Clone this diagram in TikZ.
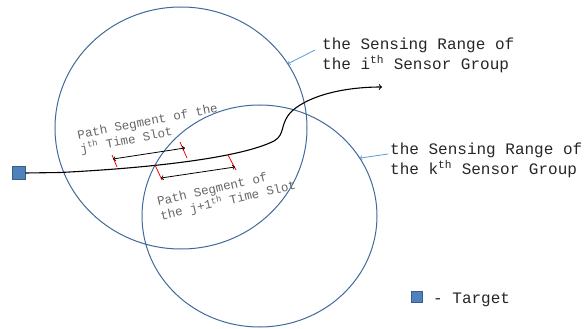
\documentclass[tikz,border=0pt]{standalone}
\usepackage{fontspec}
\setmonofont{Liberation Mono}
\usetikzlibrary{shapes.geometric}

\definecolor{rangeblue}{RGB}{65,106,156}
\definecolor{pointerblue}{RGB}{91,155,213}
\definecolor{targetfill}{RGB}{79,129,189}
\definecolor{targetdraw}{RGB}{56,93,138}

\tikzset{
  sensingrange/.style={ellipse, draw=rangeblue, line width=1pt, inner sep=0pt, outer sep=0pt},
  pointer/.style={draw=pointerblue, line width=0.8pt, ->},
  target/.style={rectangle, fill=targetfill, draw=targetdraw, line width=1pt, inner sep=0pt},
  rangelabel/.style={font=\ttfamily\fontsize{16}{19.5}\selectfont, text=black!85, align=left, inner sep=0pt, anchor=north west},
  seglabel/.style={font=\ttfamily\fontsize{12.5}{14.5}\selectfont, text=black!60, align=left, inner sep=0pt, anchor=north west},
  segtick/.style={draw=red, line width=0.8pt},
}

\begin{document}
\begin{tikzpicture}[x=1pt, y=-1pt]
  \useasboundingbox (0,0) rectangle (587,329);

  % sensing ranges of the two groups
  \node[sensingrange, minimum width=252pt, minimum height=242pt] (rangei) at (181,128) {};
  \node[sensingrange, minimum width=235pt, minimum height=222pt] (rangek) at (259.5,216) {};

  % target and its path
  \node[target, minimum size=13pt] (target) at (18.5,173) {};
  \coordinate (pathend) at (382,87);
  \draw[line width=1.1pt, ->] (target.east) -- (60,172.5)
    .. controls (150,168) and (240,158) .. (274,141)
    .. controls (286,134) and (279,124) .. (292,111)
    .. controls (310,95) and (345,87) .. (pathend);

  % path segments of slot j and slot j+1
  \draw[segtick] (112,155) -- (117,167);
  \draw[segtick] (180,142) -- (187,158);
  \draw[segtick] (155,165) -- (162,180);
  \draw[segtick] (228,155) -- (236,170);
  \coordinate (segja) at (113,159);
  \coordinate (segjb) at (185,148);
  \coordinate (segka) at (161,178);
  \coordinate (segkb) at (235,167);
  \draw[<->, line width=0.8pt] (segja) -- (segjb);
  \draw[<->, line width=0.8pt] (segka) -- (segkb);

  \node[seglabel, rotate=11] (seglabelj) at (76.5,130) {Path Segment of the\\j\textsuperscript{th} Time Slot};
  \node[seglabel, rotate=13] (seglabelk) at (156,197) {Path Segment of\\the j+1\textsuperscript{th} Time Slot};

  % labels of the ranges
  \node[rangelabel] (labeli) at (322,38) {the Sensing Range of\\the i\textsuperscript{th} Sensor Group};
  \node[rangelabel] (labelk) at (390,143) {the Sensing Range of\\the k\textsuperscript{th} Sensor Group};
  \draw[pointer] ([shift={(-7,12)}]labeli.north west) -- (rangei.31);
  \draw[pointer] ([shift={(-2,11)}]labelk.north west) -- (rangek.30);

  % legend
  \node[target, minimum size=11pt] (legend) at (417,297) {};
  \node[rangelabel, anchor=base west] (legendtext) at (433,303) {- Target};
\end{tikzpicture}
\end{document}
